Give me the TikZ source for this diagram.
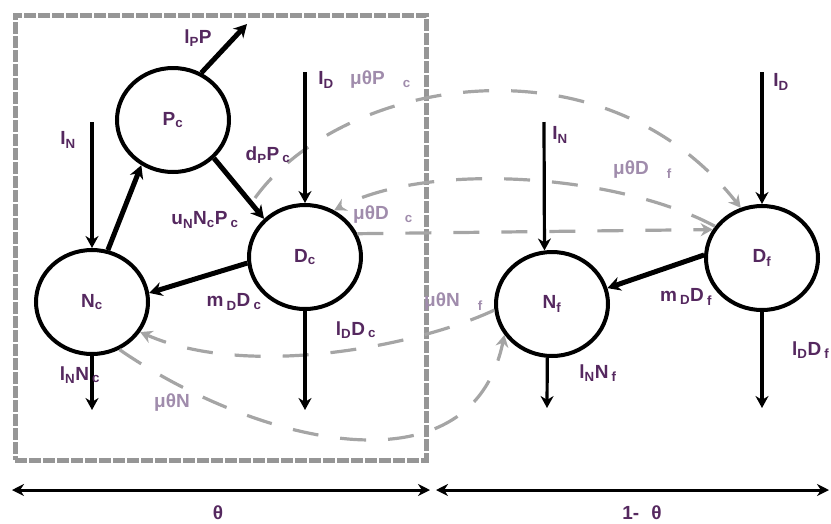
\documentclass[tikz,border=0pt]{standalone}
\usepackage{fontspec}
\setmainfont{Liberation Sans}
\usetikzlibrary{shapes.geometric,arrows.meta}
\definecolor{lab}{RGB}{85,40,95}
\definecolor{mulab}{RGB}{160,140,172}
\definecolor{dashg}{RGB}{165,165,165}
\definecolor{boxg}{RGB}{150,150,150}
\newcommand\sbs[1]{\textsubscript{#1}}
\begin{document}
\begin{tikzpicture}[x=1pt,y=-1pt,
  comp/.style={ellipse, draw, line width=4pt, minimum width=112pt, minimum height=104pt, inner sep=0pt, text=lab, font=\fontsize{19}{21}\selectfont\bfseries},
  flow/.style={line width=5pt, -{Stealth[length=13pt,width=14pt]}},
  vflow/.style={line width=3.2pt, -{Stealth[length=12pt,width=13pt]}},
  mig/.style={draw=dashg, line width=3.2pt, dash pattern=on 26pt off 22pt, -{Stealth[length=12pt,width=13pt]}},
  lbl/.style={text=lab, font=\fontsize{19}{21}\selectfont\bfseries, inner sep=0pt},
  mlbl/.style={text=mulab, font=\fontsize{19}{21}\selectfont\bfseries, inner sep=0pt},
  dimarrow/.style={line width=3pt, {Stealth[length=12pt,width=12pt]}-{Stealth[length=12pt,width=12pt]}},
  corebox/.style={draw=boxg, line width=5pt, dash pattern=on 12pt off 2pt, minimum width=411pt, minimum height=445pt, inner sep=0pt}]
\useasboundingbox (0,0) rectangle (831,523);

% core area box
\node[corebox] (core) at (220.5,237.5) {};

% compartments
\node[comp] (P) at (173,120) {P\sbs{c}};
\node[comp] (D) at (305,257) {D\sbs{c}};
\node[comp] (N) at (92,302) {N\sbs{c}};
\node[comp] (Nf) at (552,304) {N\sbs{f}};
\node[comp] (Df) at (762,258) {D\sbs{f}};

% free ends
\coordinate (lpP) at (247,24);
\coordinate (inN) at (92,122);
\coordinate (inD) at (305,72);
\coordinate (outN) at (92,410);
\coordinate (outD) at (305,410);
\coordinate (inNf) at (544,122);
\coordinate (inDf) at (762,72);
\coordinate (outNf) at (547,408);
\coordinate (outDf) at (762,408);
\coordinate (mpstart) at (255,198);

% migration (dashed grey)
\draw[mig] (mpstart) .. controls (340,80) and (600,30) .. (Df.113);
\draw[mig] (D.24) -- (Df.150);
\draw[mig] (Df.146) .. controls (620,175) and (430,160) .. (D.58);
\draw[mig] (Nf.186) .. controls (420,345) and (250,380) .. (N.-32);
\draw[mig] (N.-60) .. controls (250,440) and (470,500) .. (Nf.213);

% flows
\draw[flow] (P.59) -- (lpP);
\draw[flow] (N.73) -- (P.235);
\draw[flow] (P.-43) -- (D.137);
\draw[flow] (D.186) -- (N.9);
\draw[flow] (Df.177) -- (Nf.16);
\draw[vflow] (inN) -- (N.north);
\draw[vflow] (inD) -- (D.north);
\draw[vflow] (N.south) -- (outN);
\draw[vflow] (D.south) -- (outD);
\draw[vflow] (inNf) -- (Nf.98);
\draw[vflow] (inDf) -- (Df.north);
\draw[vflow] (Nf.-95) -- (outNf);
\draw[vflow] (Df.south) -- (outDf);

% labels
\node[lbl] (t1) at (198,38) {l\sbs{P}P};
\node[lbl] (t2) at (68,140) {I\sbs{N}};
\node[lbl] (t3) at (326,80) {I\sbs{D}};
\node[mlbl, anchor=west] (t4) at (350,80) {μθP\hspace{18pt}\sbs{c}};
\node[lbl] (t5) at (268,155) {d\sbs{P}P\,\sbs{c}};
\node[lbl] (t6) at (205,220) {u\sbs{N}N\sbs{c}P\,\sbs{c}};
\node[mlbl, anchor=west] (t7) at (353,215) {μθD\hspace{16pt}\sbs{c}};
\node[lbl] (t8) at (234,302) {m\,\sbs{D}D\,\sbs{c}};
\node[lbl] (t9) at (356,330) {l\sbs{D}D\,\sbs{c}};
\node[lbl] (t10) at (80,375) {l\sbs{N}N\,\sbs{c}};
\node[mlbl] (t11) at (172,403) {μθN};
\node[mlbl, anchor=west] (t12) at (613,170) {μθD\hspace{18pt}\sbs{f}};
\node[mlbl, anchor=west] (t13) at (424,302) {μθN\hspace{18pt}\sbs{f}};
\node[lbl] (t14) at (560,135) {I\sbs{N}};
\node[lbl] (t15) at (781,82) {I\sbs{D}};
\node[lbl] (t16) at (686,297) {m\,\sbs{D}D\,\sbs{f}};
\node[lbl] (t17) at (598,373) {l\sbs{N}N\,\sbs{f}};
\node[lbl, anchor=west] (t18) at (792,350) {l\sbs{D}D\,\sbs{f}};

% dimension arrows
\coordinate (d1) at (12,490);
\coordinate (d2) at (430,490);
\coordinate (d3) at (436,490);
\coordinate (d4) at (829,490);
\draw[dimarrow] (d1) -- (d2);
\draw[dimarrow] (d3) -- (d4);
\node[lbl] (t19) at (218,513) {θ};
\node[lbl] (t20) at (642,513) {1-\hspace{12pt}θ};
\end{tikzpicture}
\end{document}
